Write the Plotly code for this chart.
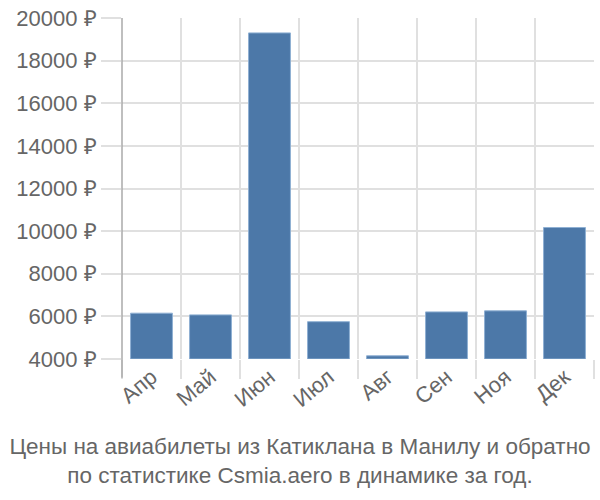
import plotly.graph_objects as go

months = ["Апр", "Май", "Июн", "Июл", "Авг", "Сен", "Ноя", "Дек"]
prices = [6150, 6070, 19300, 5750, 4150, 6210, 6260, 10170]
y_ticks = [4000, 6000, 8000, 10000, 12000, 14000, 16000, 18000, 20000]
y_labels = [f"{v} ₽" for v in y_ticks]
title_text = "Цены на авиабилеты из Катиклана в Манилу и обратно<br>по статистике Csmia.aero в динамике за год."

base = 4000
fig = go.Figure(go.Bar(
    x=months,
    y=[p - base for p in prices],
    base=base,
    marker=dict(color="#4c78a8", line=dict(color="#8fb0d3", width=1)),
    hoverinfo="skip",
))

font_family = "Liberation Sans, Arial, sans-serif"
fig.update_layout(
    width=600, height=500,
    margin=dict(l=122, r=6, t=15, b=141),
    plot_bgcolor="white", paper_bgcolor="white",
    bargap=0.29,
    showlegend=False,
    font=dict(family=font_family, color="#666666"),
    title=dict(text=title_text, xref="container", yref="container",
               x=0.5, xanchor="center", y=0.093, yanchor="middle",
               font=dict(size=22.5, color="#666666", family=font_family)),
    xaxis=dict(type="category", tickson="boundaries", showgrid=True,
               gridcolor="#e0e0e0", gridwidth=1.5, ticks="outside", ticklen=19,
               tickcolor="#e0e0e0", tickwidth=1.5, tickangle=-40,
               tickfont=dict(size=22, color="#666666"), showline=False,
               zeroline=False),
    yaxis=dict(range=[base, 20000], tickvals=y_ticks, ticktext=y_labels,
               showgrid=True, gridcolor="#e0e0e0", gridwidth=1.5,
               ticks="outside", ticklen=20, tickcolor="#e0e0e0", tickwidth=1.5,
               tickfont=dict(size=22, color="#666666"), showline=False,
               zeroline=False),
    shapes=[dict(type="line", xref="paper", yref="paper", x0=0, x1=0,
                 y0=-0.055, y1=1, line=dict(color="#aaaaaa", width=1.5))],
)

fig.write_html("out.html", config={"displayModeBar": False},
               post_script="document.body.style.margin='0';")
